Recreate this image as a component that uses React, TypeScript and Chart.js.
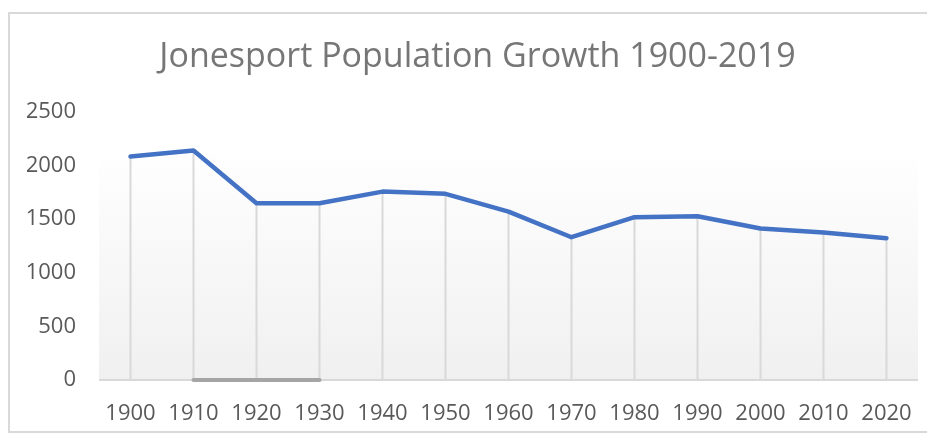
import React, { useEffect, useRef } from "react";
import { Chart, registerables } from "chart.js";

Chart.register(...registerables);

const years = ["1900", "1910", "1920", "1930", "1940", "1950", "1960", "1970", "1980", "1990", "2000", "2010", "2020"];
const population = [2083, 2139, 1648, 1648, 1756, 1735, 1570, 1331, 1518, 1527, 1412, 1374, 1322];
const baseSegment = [null, 0, 0, 0, null, null, null, null, null, null, null, null, null];
const titleText = "Jonesport Population Growth 1900-2019";

const FONT = "'Open Sans', 'Noto Sans', sans-serif";

const dropLines = {
  id: "dropLines",
  beforeDatasetsDraw(chart: any) {
    const meta = chart.getDatasetMeta(0);
    const y0 = chart.scales.y.getPixelForValue(0);
    const ctx = chart.ctx;
    ctx.save();
    ctx.strokeStyle = "#d9d9d9";
    ctx.lineWidth = 2;
    meta.data.forEach((pt: any) => {
      ctx.beginPath();
      ctx.moveTo(pt.x, pt.y);
      ctx.lineTo(pt.x, y0);
      ctx.stroke();
    });
    ctx.restore();
  },
};

const plotBg = {
  id: "plotBg",
  beforeDraw(chart: any) {
    const { ctx, chartArea } = chart;
    if (!chartArea) return;
    const g = ctx.createLinearGradient(0, chartArea.top, 0, chartArea.bottom);
    g.addColorStop(0, "#ffffff");
    g.addColorStop(0.13, "#ffffff");
    g.addColorStop(1, "#f0f0f0");
    ctx.save();
    ctx.fillStyle = g;
    ctx.fillRect(chartArea.left, chartArea.top, chartArea.right - chartArea.left, chartArea.bottom - chartArea.top);
    ctx.restore();
  },
};

export default function App() {
  const ref = useRef<HTMLCanvasElement>(null);
  useEffect(() => {
    if (!ref.current) return;
    const chart = new Chart(ref.current, {
      type: "line",
      data: {
        labels: years,
        datasets: [
          {
            data: population,
            borderColor: "#4472c4",
            borderWidth: 4.5,
            pointRadius: 0,
            tension: 0,
            borderCapStyle: "round",
            borderJoinStyle: "round",
          },
          {
            data: baseSegment as any,
            borderColor: "#a5a5a5",
            borderWidth: 4,
            pointRadius: 0,
            tension: 0,
            borderCapStyle: "round",
            clip: false as any,
          },
        ],
      },
      options: {
        animation: false,
        responsive: false,
        layout: { padding: { left: 19, right: 7, top: 0, bottom: 0 } },
        plugins: {
          legend: { display: false },
          tooltip: { enabled: false },
          title: {
            display: true,
            text: titleText,
            color: "#767676",
            font: { family: FONT, size: 34, weight: "normal" },
            padding: { top: 29, bottom: 34 },
          },
        },
        scales: {
          x: {
            offset: true,
            afterFit(scale: any) {
              scale.height = 55;
            },
            grid: { display: false, drawTicks: false },
            border: { display: false },
            ticks: {
              color: "#595959",
              font: { family: FONT, size: 22 },
              padding: 21,
              maxRotation: 0,
              autoSkip: false,
            },
          },
          y: {
            min: 0,
            max: 2500,
            afterFit(scale: any) {
              scale.width = 72;
            },
            grid: {
              drawTicks: false,
              lineWidth: 2,
              color: (c: any) => (c.tick && c.tick.value === 0 ? "#d9d9d9" : "rgba(0,0,0,0)"),
            },
            border: { display: false },
            ticks: {
              stepSize: 500,
              color: "#595959",
              font: { family: FONT, size: 22 },
              padding: 23,
              callback: (v: any) => String(v),
            },
          },
          yRight: {
            position: "right",
            min: 0,
            max: 2500,
            afterFit(scale: any) {
              scale.width = 10;
            },
            grid: { display: false, drawTicks: false },
            border: { display: false },
            ticks: { display: false },
          },
        },
      },
      plugins: [plotBg, dropLines],
    });
    return () => chart.destroy();
  }, []);

  return (
    <div style={{ position: "relative", width: 927, height: 427 }}>
      <div
        style={{
          position: "absolute",
          left: 0,
          top: 4,
          width: 927,
          height: 421,
          borderTop: "2px solid #d9d9d9",
          borderLeft: "2px solid #d9d9d9",
          borderBottom: "2px solid #d9d9d9",
          boxSizing: "border-box",
        }}
      />
      <canvas ref={ref} width={927} height={427} style={{ display: "block", position: "absolute", left: 0, top: 0 }} />
    </div>
  );
}
